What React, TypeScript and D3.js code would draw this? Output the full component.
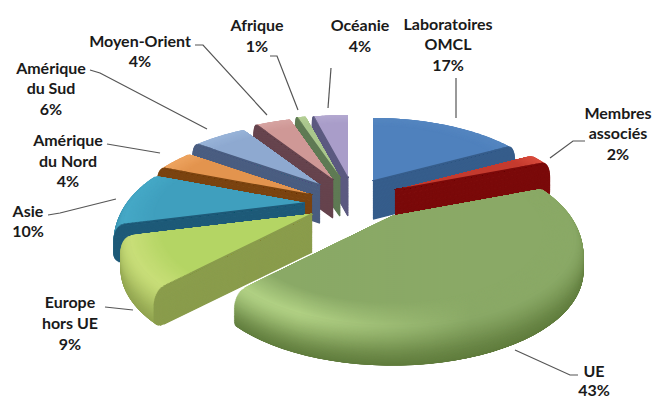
import React from "react";
import * as d3 from "d3";

const regions = ["Laboratoires OMCL", "Membres associés", "UE", "Europe hors UE", "Asie", "Amérique du Nord", "Amérique du Sud", "Moyen-Orient", "Afrique", "Océanie"];
const shares = [17, 2, 43, 9, 10, 4, 6, 4, 1, 4];

// Screen position of each exploded wedge's tip.
const tipX = [373, 395, 392, 312, 305, 312, 320, 333, 340, 348];
const tipY = [181, 190, 216, 214, 203, 195, 185, 180, 178, 178];
const topColors = ["#4f81bd", "#c43a2e", "#8aa966", "#b4d564", "#3f9fbe", "#e3944e", "#8ea9d0", "#cf9896", "#a9c68c", "#a99dc9"];
const lightColors = ["#5586c0", "#d84b3c", "#b0d083", "#c8de78", "#45a8c6", "#eda35f", "#98b3d8", "#d6a3a1", "#b4cf96", "#b3a8d0"];
const rimColors = ["#3c6696", "#860d0d", "#5f7b3c", "#8ea14e", "#1e5c7a", "#7a4412", "#4c6084", "#66444f", "#5f7b55", "#5c5a82"];
const faceColors = ["#365d8b", "#7a0a0a", "#5f7b3c", "#8a9c4c", "#1e5a78", "#7a4310", "#4a5d80", "#66444e", "#5f7a54", "#5c5a80"];
const drawOrder = [9, 8, 7, 6, 5, 4, 0, 1, 3, 2];

const labels: { lines: string[]; x: number; y: number[] }[] = [
  { lines: ["Laboratoires", "OMCL", "17%"], x: 448, y: [30, 50, 71] },
  { lines: ["Membres", "associés", "2%"], x: 618, y: [119, 139, 160] },
  { lines: ["UE", "43%"], x: 594, y: [377, 396] },
  { lines: ["Europe", "hors UE", "9%"], x: 70, y: [308, 329, 350] },
  { lines: ["Asie", "10%"], x: 28, y: [217, 237] },
  { lines: ["Amérique", "du Nord", "4%"], x: 68, y: [146, 167, 187] },
  { lines: ["Amérique", "du Sud", "6%"], x: 51, y: [74, 94, 115] },
  { lines: ["Moyen-Orient", "4%"], x: 140, y: [47, 67] },
  { lines: ["Afrique", "1%"], x: 257, y: [31, 52] },
  { lines: ["Océanie", "4%"], x: 360, y: [31, 52] },
];

const leaders: [number, number][][] = [
  [[456, 78], [456, 118]],
  [[585, 141], [573, 141], [550, 158]],
  [[515, 350], [570, 375], [578, 375]],
  [[105, 307], [133, 310]],
  [[48, 215], [60, 213], [116, 199]],
  [[107, 144], [160, 153]],
  [[90, 70], [100, 73], [207, 129]],
  [[195, 45], [203, 45], [267, 115]],
  [[270, 56], [277, 56], [298, 110]],
  [[331, 68], [328, 108]],
];

// Perspective camera for the tilted disc: v runs away from the viewer.
const A = 184, B = 84, K = 0.28, H = 38;
const project = (i: number, u: number, v: number, z: number): [number, number] => {
  const w = 1 + K * v;
  return [tipX[i] + (A * u) / w, tipY[i] + (-B * v) / w + z];
};

const pieAngles = d3.pie<number>().sort(null).value((d) => d)(shares);
const line = d3.line();

type Layer = { d: string; edge: string; fill: string; face: string };

// Stack of outlines from the bottom of the wedge up to its top; `light` is the shoulder colour.
function wedgeLayers(i: number, light: string): Layer[] {
  const a0 = pieAngles[i].startAngle, a1 = pieAngles[i].endAngle, mid = (a0 + a1) / 2;
  const ramp = d3.interpolateRgb(rimColors[i], light);
  const fade = d3.interpolateRgb(light, topColors[i]);
  const showEnd = mid < Math.PI;
  const out: Layer[] = [];
  const add = (r: number, z: number, fill: string) => {
    const arcPts = d3.range(0, 49).map((k) => {
      const a = a0 + ((a1 - a0) * k) / 48;
      return project(i, r * Math.sin(a), r * Math.cos(a), z);
    });
    const apex = project(i, 0, 0, z);
    const tip = arcPts[showEnd ? 48 : 0];
    out.push({ d: line([apex, ...arcPts])! + "Z", edge: line([apex, tip])!, fill, face: faceColors[i] });
  };
  const n = Math.round(H / 0.7);
  for (let k = 0; k <= n; k++) {
    const t = k / n;
    const low = t < 0.25 ? 1 - Math.sqrt(1 - Math.pow(1 - t / 0.25, 2)) : 0;
    const high = t > 0.6 ? 1 - Math.sqrt(Math.max(0, 1 - Math.pow((t - 0.6) / 0.4, 2))) : 0;
    add(1 - 0.05 * low - 0.05 * high, H * (1 - t), ramp(Math.pow(t, 1.6)));
  }
  for (let k = 0; k <= 22; k++) {
    const t = k / 22;
    add(0.95 - 0.15 * t, 0, fade(t));
  }
  return out;
}

const Wedge = ({ i, light }: { i: number; light: string }) => (
  <>
    {wedgeLayers(i, light).map((l, k) => (
      <g key={k}>
        <path d={l.d} fill={l.fill} />
        {i !== 2 && <path d={l.edge} stroke={l.face} strokeWidth={1.4} fill="none" />}
      </g>
    ))}
  </>
);

export default function App() {
  return (
    <svg width={656} height={400} viewBox="0 0 656 400" style={{ position: "absolute", left: 0, top: 0, background: "#fff" }}>
      <defs>
        {/* The large wedge is lit from the front left: its highlight dies away to the right. */}
        <linearGradient id="unlit" gradientUnits="userSpaceOnUse" x1={300} x2={470} y1={0} y2={0}>
          <stop offset="0" stopColor="#000" />
          <stop offset="1" stopColor="#fff" />
        </linearGradient>
        <mask id="unlitMask" maskUnits="userSpaceOnUse" x={0} y={0} width={656} height={400}>
          <rect width={656} height={400} fill="url(#unlit)" />
        </mask>
      </defs>
      {drawOrder.map((i) => (
        <g key={regions[i]}>
          <Wedge i={i} light={lightColors[i]} />
          {i === 2 && (
            <g mask="url(#unlitMask)">
              <Wedge i={i} light={topColors[i]} />
            </g>
          )}
        </g>
      ))}
      {leaders.map((p, i) => (
        <path key={i} d={line(p)!} fill="none" stroke="#555" strokeWidth={1.2} />
      ))}
      {labels.map((l) => (
        <text key={l.lines.join()} textAnchor="middle" fontFamily="Lato, sans-serif" fontWeight={700} fontSize={16} fill="#1a1a1a">
          {l.lines.map((s, k) => (
            <tspan key={k} x={l.x} y={l.y[k]}>{s}</tspan>
          ))}
        </text>
      ))}
    </svg>
  );
}
